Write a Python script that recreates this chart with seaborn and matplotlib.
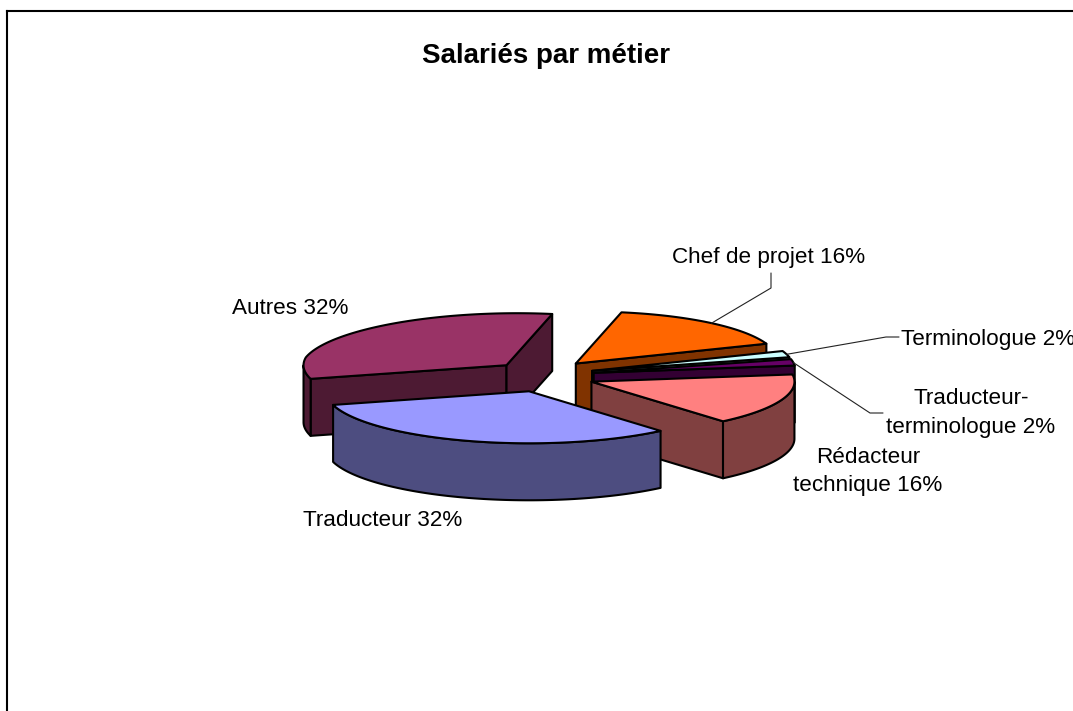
import matplotlib
matplotlib.use('Agg')
import numpy as np
import matplotlib.pyplot as plt
import seaborn as sns

TITLE = 'Salariés par métier'
# clockwise on screen, starting from the back of the pie
METIERS = ['Chef de projet', 'Terminologue', 'Traducteur-terminologue',
           'Rédacteur technique', 'Traducteur', 'Autres']
SHARES = [16, 2, 2, 16, 32, 32]
TOPS = ['#FF6600', '#CCFFFF', '#660066', '#FF8080', '#9999FF', '#993366']
LABELS = ['Chef de projet 16%', 'Terminologue 2%', 'Traducteur-\nterminologue 2%',
          'Rédacteur\ntechnique 16%', 'Traducteur 32%', 'Autres 32%']
# painter's order, back to front
DRAW_ORDER = ['Autres', 'Chef de projet', 'Terminologue', 'Traducteur-terminologue',
              'Rédacteur technique', 'Traducteur']

# pie geometry, in pixels of the output
W, H = 1073, 711
CX, CY = 544, 376
RX, RY = 203, 52
EXPLODE_X, EXPLODE_Y = 50.75, 16
DEPTH = 57
START = 280
BACK_SHEAR = 12.5  # the far part of the pie leans to the right
SHEAR_FROM = 0.15
LW = 1.5


def slice_outline(theta0, theta1):
    mid = np.radians((theta0 + theta1) / 2)
    apex = np.array([CX + EXPLODE_X * np.cos(mid), CY + EXPLODE_Y * np.sin(mid)])
    t = np.radians(np.linspace(theta0, theta1, max(int(theta1 - theta0) * 2, 4)))
    sin_t = np.sin(t)
    x = apex[0] + RX * np.cos(t) + BACK_SHEAR * np.maximum(-sin_t - SHEAR_FROM, 0)
    arc = np.column_stack([x, apex[1] + RY * sin_t])
    return apex, arc


def draw_wall(ax, pts, color):
    low = pts[::-1] + [0, DEPTH]
    ax.fill(*np.vstack([pts, low]).T, facecolor=color, edgecolor='black', lw=LW, joinstyle='round')


def draw_slice(ax, theta0, theta1, top):
    apex, arc = slice_outline(theta0, theta1)
    wall = tuple(np.array(matplotlib.colors.to_rgb(top)) * 0.5)

    # only the faces running leftwards along the outline look towards the viewer
    if arc[0, 0] < apex[0]:
        draw_wall(ax, np.array([apex, arc[0]]), wall)
    if arc[-1, 0] > apex[0]:
        draw_wall(ax, np.array([arc[-1], apex]), wall)
    going_left = np.diff(arc[:, 0]) < 0
    i = 0
    while i < len(going_left):
        if going_left[i]:
            j = i
            while j + 1 < len(going_left) and going_left[j + 1]:
                j += 1
            draw_wall(ax, arc[i:j + 2], wall)
            i = j + 1
        else:
            i += 1

    ax.fill(*np.vstack([apex, arc]).T, facecolor=top, edgecolor='black', lw=LW, joinstyle='round')


sns.set_theme(style='white')
plt.rcParams['font.family'] = ['Liberation Sans', 'DejaVu Sans']

fig = plt.figure(figsize=(W / 100, H / 100), dpi=100, facecolor='white')
ax = fig.add_axes([7 / W, 0, 1 - 7 / W, 1 - 11 / H])
ax.set_xlim(7, W)
ax.set_ylim(H, 11)
ax.set_xticks([])
ax.set_yticks([])
sns.despine(ax=ax, top=False, left=False, right=True, bottom=True)
for side in ['left', 'top']:
    ax.spines[side].set_color('black')
    ax.spines[side].set_linewidth(1.5)

palette = dict(zip(METIERS, sns.color_palette(TOPS)))
edges = START + np.cumsum([0] + SHARES) * 3.6
angles = {m: (edges[i], edges[i + 1]) for i, m in enumerate(METIERS)}

for metier in DRAW_ORDER:
    draw_slice(ax, *angles[metier], palette[metier])

# leader lines start on the rim of their slice
ELBOWS = {
    'Chef de projet': [(771, 288), (771, 273)],
    'Terminologue': [(886, 337), (899, 337)],
    'Traducteur-terminologue': [(870, 413), (883, 413)],
}
for metier, elbow in ELBOWS.items():
    t0, t1 = angles[metier]
    apex, arc = slice_outline(t0, t1)
    pts = np.array([arc[len(arc) // 2]] + elbow)
    ax.plot(pts[:, 0], pts[:, 1], color='#222222', lw=0.8, solid_joinstyle='miter')

LABEL_SPOTS = [(769, 258, 'center'), (901, 340, 'left'), (971, 413, 'center'),
               (868, 471.5, 'center'), (383, 521, 'center'), (290, 309, 'center')]
for text, (x, y, ha) in zip(LABELS, LABEL_SPOTS):
    ax.text(x, y, text, ha=ha, va='center', fontsize=16.2, color='black', linespacing=1.46)

ax.text(546, 56, TITLE, ha='center', va='center', fontsize=20, fontweight='bold', color='black')

fig.savefig('out.png', dpi=100)
plt.close(fig)
